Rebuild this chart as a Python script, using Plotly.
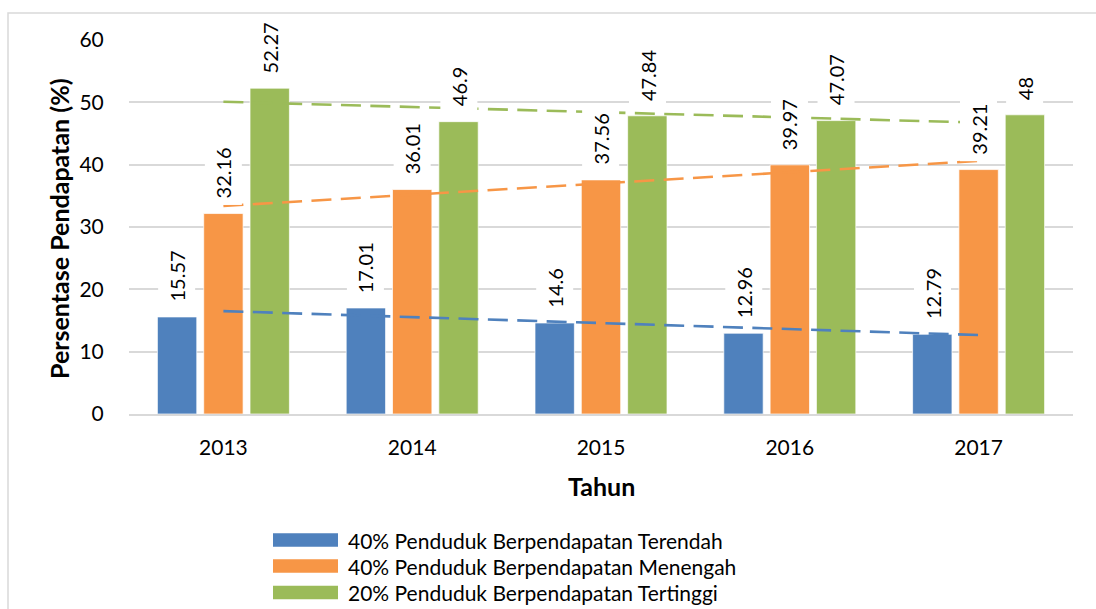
import numpy as np
import plotly.graph_objects as go

years = ["2013", "2014", "2015", "2016", "2017"]
terendah = [15.57, 17.01, 14.6, 12.96, 12.79]
menengah = [32.16, 36.01, 37.56, 39.97, 39.21]
tertinggi = [52.27, 46.9, 47.84, 47.07, 48.0]
names = [
    "40% Penduduk Berpendapatan Terendah",
    "40% Penduduk Berpendapatan Menengah",
    "20% Penduduk Berpendapatan Tertinggi",
]
colors = ["#4F81BD", "#F79646", "#9BBB59"]
series = [terendah, menengah, tertinggi]

W, H = 1096, 609
ML, MR, MT, MB = 129, 23, 40, 195
PW, PH = W - ML - MR, H - MT - MB
BARGAP, BARGROUPGAP = 0.264, 0.15
FONT = "Lato"


def px2x(px):
    """screen pixel x -> paper x"""
    return (px - ML) / PW


def px2y(py):
    """screen pixel y -> paper y"""
    return (H - MB - py) / PH


fig = go.Figure()
for name, vals, col in zip(names, series, colors):
    fig.add_trace(go.Bar(
        x=years, y=vals, name=name, marker_color=col,
        marker_line=dict(color="rgba(255,255,255,0.7)", width=1),
        showlegend=False,
    ))

# linear trendlines (as in the source spreadsheet)
idx = np.arange(len(years))
for name, vals, col in zip(names, series, colors):
    k, b = np.polyfit(idx, vals, 1)
    fig.add_trace(go.Scatter(
        x=years, y=k * idx + b, mode="lines", name="Linear (" + name + ")",
        line=dict(color=col, width=2.6, dash="20px,9.4px"),
        showlegend=False, hoverinfo="skip",
    ))

# data labels
catw = PW / len(years)
slot = (1 - BARGAP) * catw / 3
annotations = []
for i, (vals, col) in enumerate(zip(series, colors)):
    for j, v in enumerate(vals):
        annotations.append(dict(
            x=j, y=v, xref="x", yref="y", text=f"{v:g}", showarrow=False,
            textangle=-90, xshift=(i - 1) * slot, yanchor="bottom", yshift=8,
            bgcolor="white", borderpad=6,
            font=dict(family=FONT, size=20, color="#000000"),
        ))

# axis titles
annotations.append(dict(
    x=px2x(59), y=px2y(229), xref="paper", yref="paper",
    xanchor="center", yanchor="middle",
    text="<b>Persentase Pendapatan (%)</b>",
    showarrow=False, textangle=-90, font=dict(family=FONT, size=25, color="#000000"),
))
annotations.append(dict(
    x=px2x(601), y=px2y(486), xref="paper", yref="paper",
    xanchor="center", yanchor="middle", text="<b>Tahun</b>",
    showarrow=False, font=dict(family=FONT, size=25, color="#000000"),
))

# outer chart border
shapes = [dict(
    type="rect", xref="paper", yref="paper", layer="below",
    x0=px2x(8), x1=px2x(1120), y0=px2y(640), y1=px2y(13),
    line=dict(color="#D9D9D9", width=1.5), fillcolor="rgba(0,0,0,0)",
)]
# legend (drawn manually to match wide colour swatches)
legend_rows = [540, 566, 592.5]
for name, col, cy in zip(names, colors, legend_rows):
    shapes.append(dict(
        type="rect", xref="paper", yref="paper",
        x0=px2x(273), x1=px2x(338), y0=px2y(cy + 6.7), y1=px2y(cy - 6.7),
        line=dict(width=0), fillcolor=col,
    ))
    annotations.append(dict(
        x=px2x(346), y=px2y(cy), xref="paper", yref="paper", text=name,
        showarrow=False, xanchor="left", yanchor="middle",
        font=dict(family=FONT, size=21, color="#000000"),
    ))

fig.update_layout(
    width=W, height=H,
    margin=dict(l=ML, r=MR, t=MT, b=MB),
    paper_bgcolor="white", plot_bgcolor="white",
    barmode="group", bargap=BARGAP, bargroupgap=BARGROUPGAP,
    font=dict(family=FONT, size=21, color="#000000"),
    annotations=annotations, shapes=shapes,
    showlegend=False,
    xaxis=dict(
        type="category", range=[-0.5, len(years) - 0.5],
        showgrid=False, showline=True, linecolor="#D9D9D9", linewidth=1.5,
        ticks="outside", ticklen=14, tickcolor="rgba(0,0,0,0)",
        tickfont=dict(family=FONT, size=21, color="#000000"),
    ),
    yaxis=dict(
        range=[0, 60], dtick=10, showgrid=True, gridcolor="#D9D9D9", gridwidth=1.5,
        zeroline=False, showline=False,
        ticks="outside", ticklen=20, tickcolor="rgba(0,0,0,0)",
        tickfont=dict(family=FONT, size=21, color="#000000"),
    ),
)

fig.write_html(
    "out.html",
    config={"displayModeBar": False},
    post_script="document.body.style.margin='0';document.body.style.overflow='hidden';",
)
